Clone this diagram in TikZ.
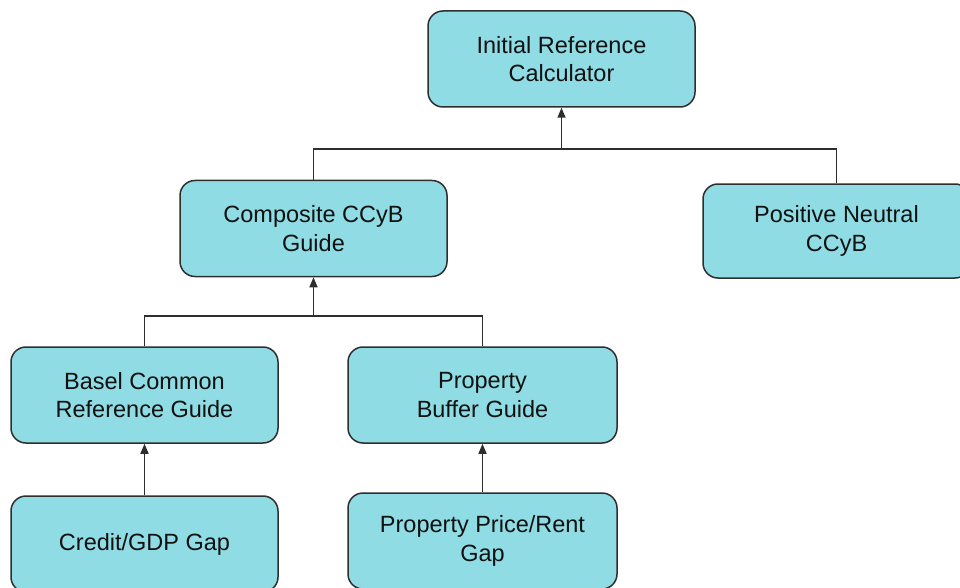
\documentclass[tikz,border=0pt]{standalone}
\usepackage{fontspec}
\setmainfont{Liberation Sans}
\usetikzlibrary{arrows.meta}
\definecolor{boxfill}{HTML}{90DCE4}
\definecolor{boxline}{HTML}{2E2E2E}
\definecolor{txt}{HTML}{111111}
\begin{document}
\begin{tikzpicture}[x=1pt,y=-1pt,
  box/.style={draw=boxline, fill=boxfill, line width=1.5pt, rounded corners=15pt,
    minimum width=267pt, minimum height=96pt, inner sep=0pt, align=center,
    text=txt, font=\fontsize{23.5}{28.5}\selectfont},
  conn/.style={draw=boxline, line width=1.5pt},
  arr/.style={conn, -{Triangle[length=10pt,width=8pt]}}]
\useasboundingbox (0,0) rectangle (960,588);
\clip (0,0) rectangle (960,588);
\node[box] (irc) at (561.5,59) {Initial Reference\\Calculator};
\node[box] (ccg) at (313.5,228.5) {Composite CCyB\\Guide};
\node[box, minimum height=94pt] (pnc) at (836.5,231) {Positive Neutral\\CCyB};
\node[box] (bcr) at (144.5,395) {Basel Common\\Reference Guide};
\node[box, minimum width=269pt] (pbg) at (482.5,395) {Property\\Buffer Guide};
\node[box] (cgg) at (144.5,544) {Credit/GDP Gap};
\node[box, minimum width=269pt] (ppr) at (482.5,541) {Property Price/Rent\\Gap};
\coordinate (j1) at (561.5,149);
\coordinate (j2) at (313.5,316);
\draw[conn] (ccg.north) |- (j1) -| (pnc.north);
\draw[arr] (j1) -- (irc.south);
\draw[conn] (bcr.north) |- (j2) -| (pbg.north);
\draw[arr] (j2) -- (ccg.south);
\draw[arr] (cgg.north) -- (bcr.south);
\draw[arr] (ppr.north) -- (pbg.south);
\end{tikzpicture}
\end{document}
